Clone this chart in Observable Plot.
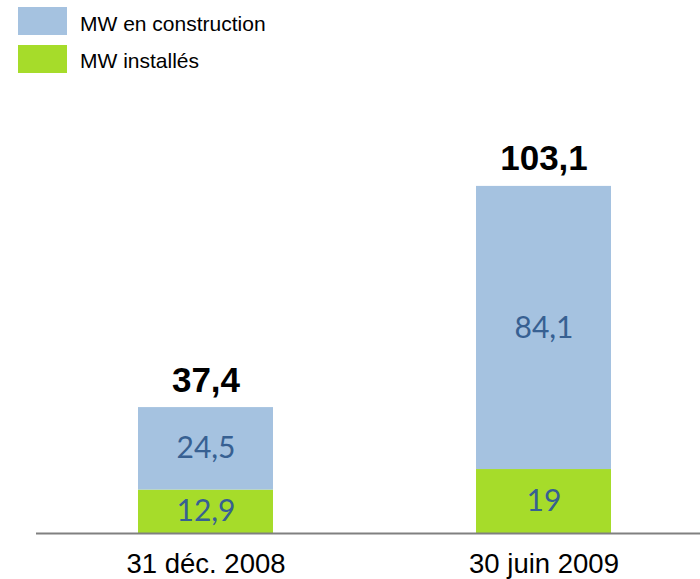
<!DOCTYPE html>
<html><head><meta charset="utf-8">
<script src="https://cdn.jsdelivr.net/npm/d3@7"></script>
<script src="https://cdn.jsdelivr.net/npm/@observablehq/plot@0.6"></script>
<style>
body{margin:0;background:#fff;font-family:"Liberation Sans",Arial,sans-serif;}
#legend{position:relative;height:80px;width:700px;}
.sw{position:absolute;left:18px;width:49px;height:28px;}
.lb{position:absolute;left:80px;font-size:21px;color:#000;line-height:28px;white-space:nowrap;}
</style></head><body>
<div id="legend"></div>
<div id="chart"></div>
<script>
const categories = ["31 déc. 2008", "30 juin 2009"];
const series = ["MW installés", "MW en construction"];
const installed = [12.9, 19];
const construction = [24.5, 84.1];
const totals = [37.4, 103.1];
const colors = ["#a6dc2a", "#a5c2e0"];
const legendOrder = ["MW en construction", "MW installés"];

const fmt = v => String(v).replace(".", ",");

const rows = [];
categories.forEach((c, i) => rows.push({cat: c, series: series[0], value: installed[i]}));
categories.forEach((c, i) => rows.push({cat: c, series: series[1], value: construction[i]}));
const totalRows = categories.map((c, i) => ({cat: c, total: totals[i]}));

// HTML legend
const legend = document.getElementById("legend");
legendOrder.forEach((s, i) => {
  const sw = document.createElement("div");
  sw.className = "sw";
  sw.style.top = (7 + i * 38) + "px";
  sw.style.background = colors[series.indexOf(s)];
  legend.appendChild(sw);
  const lb = document.createElement("div");
  lb.className = "lb";
  lb.style.top = (10 + i * 37) + "px";
  lb.textContent = s;
  legend.appendChild(lb);
});

const chart = Plot.plot({
  width: 700,
  height: 499,
  marginTop: 49,
  marginBottom: 46,
  marginLeft: 36,
  marginRight: 0,
  style: {fontFamily: "'Liberation Sans', Arial, sans-serif", background: "#fff"},
  x: {domain: categories, paddingInner: 0.601, paddingOuter: 0.2814, align: 0.535, label: null},
  y: {domain: [0, 120], axis: null},
  color: {domain: series, range: colors},
  marks: [
    Plot.barY(rows, {x: "cat", y: "value", fill: "series", z: "series"}),
    Plot.text(rows, Plot.stackY({x: "cat", y: "value", z: "series", text: d => fmt(d.value),
      fill: "#376092", fontSize: 30, fontFamily: "Lato"})),
    Plot.text(totalRows, {x: "cat", y: "total", text: d => fmt(d.total), lineAnchor: "bottom",
      dy: -16, fontSize: 35, fontWeight: "bold", fill: "#000"}),
    Plot.ruleY([0], {stroke: "#808080", strokeWidth: 2}),
    Plot.axisX({tickSize: 0, tickPadding: 20, fontSize: 27.5, label: null, fill: "#000"})
  ]
});
document.getElementById("chart").appendChild(chart);
</script>
</body></html>
